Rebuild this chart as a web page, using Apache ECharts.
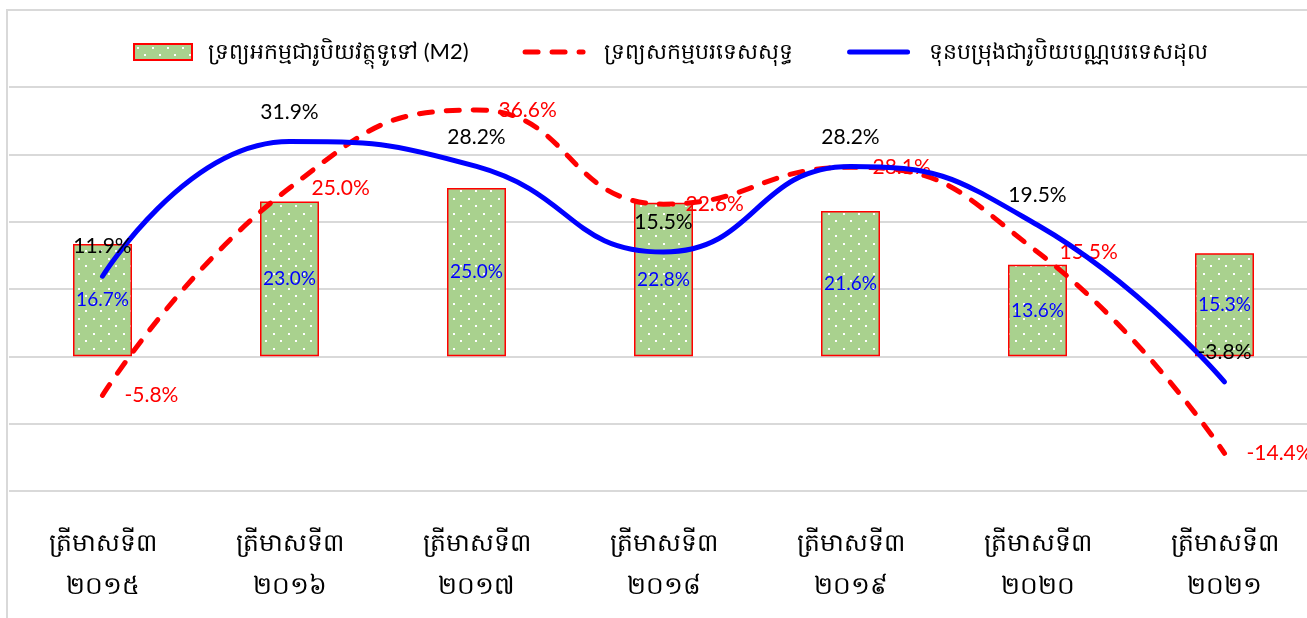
<!DOCTYPE html>
<html>
<head>
<meta charset="utf-8">
<script src="https://cdn.jsdelivr.net/npm/echarts@6/dist/echarts.min.js"></script>
<style>
  html, body { margin: 0; padding: 0; background: #fff; }
  #main { width: 1307px; height: 618px; }
</style>
</head>
<body>
<div id="main"></div>
<script>
var categories = ['ត្រីមាសទី៣\n២០១៥', 'ត្រីមាសទី៣\n២០១៦', 'ត្រីមាសទី៣\n២០១៧', 'ត្រីមាសទី៣\n២០១៨',
    'ត្រីមាសទី៣\n២០១៩', 'ត្រីមាសទី៣\n២០២០', 'ត្រីមាសទី៣\n២០២១'];
var m2Values = [16.7, 23.0, 25.0, 22.8, 21.6, 13.6, 15.3];
var netForeignValues = [-5.8, 25.0, 36.6, 22.6, 28.1, 15.5, -14.4];
var foreignDepositValues = [11.9, 31.9, 28.2, 15.5, 28.2, 19.5, -3.8];
var seriesNames = ['ទ្រព្យអកម្មជារូបិយវត្ថុទូទៅ (M2)', 'ទ្រព្យសកម្មបរទេសសុទ្ធ', 'ទុនបម្រុងជារូបិយបណ្ណបរទេសដុល'];

// dotted fill for the bars
var dots = document.createElement('canvas');
dots.width = 15; dots.height = 15;
var ctx = dots.getContext('2d');
ctx.fillStyle = '#a9d18e';
ctx.fillRect(0, 0, 15, 15);
ctx.fillStyle = '#ffffff';
ctx.fillRect(3, 3, 2, 2);
ctx.fillRect(10, 10, 2, 2);

var font = 'Lato, "Noto Sans", sans-serif';
var pct = function (p) { return p.value.toFixed(1) + '%'; };

var chart = echarts.init(document.getElementById('main'));
chart.setOption({
    animation: false,
    textStyle: { fontFamily: font },
    graphic: [{
        type: 'rect',
        shape: { x: 7, y: 10, width: 1320, height: 640 },
        style: { fill: 'none', stroke: '#d9d9d9', lineWidth: 2 },
        silent: true
    }],
    legend: {
        top: 36,
        left: 128,
        itemWidth: 58,
        itemHeight: 16,
        itemGap: 54,
        textStyle: { fontSize: 22, color: '#000', fontFamily: font },
        lineStyle: { width: 5 },
        data: [
            { name: seriesNames[0], icon: 'rect', textStyle: { padding: [0, 0, 0, 11] } },
            { name: seriesNames[1], itemStyle: { opacity: 0 }, textStyle: { padding: [0, 0, 0, 16] } },
            { name: seriesNames[2], itemStyle: { opacity: 0 }, textStyle: { padding: [0, 0, 0, 16] } }
        ]
    },
    grid: { left: 9, width: 1309, top: 87, bottom: 127, outerBoundsMode: 'none' },
    xAxis: {
        type: 'category',
        data: categories,
        axisLine: { show: false, onZero: false },
        axisTick: { show: false },
        axisLabel: { fontSize: 25, color: '#000', lineHeight: 43, margin: 30, fontFamily: font }
    },
    yAxis: {
        type: 'value',
        min: -20,
        max: 40,
        interval: 10,
        axisLabel: { show: false },
        axisLine: { show: false },
        axisTick: { show: false },
        splitLine: { lineStyle: { color: '#d9d9d9', width: 2 } }
    },
    series: [{
        name: seriesNames[0],
        type: 'bar',
        data: m2Values,
        barWidth: 59,
        itemStyle: { color: { image: dots, repeat: 'repeat' }, borderColor: '#ff0000', borderWidth: 1.5 },
        label: { show: true, position: 'inside', color: '#0000ff', fontSize: 19, formatter: pct },
        z: 2
    }, {
        name: seriesNames[1],
        type: 'line',
        data: netForeignValues,
        smooth: 0.5,
        symbol: 'circle',
        symbolSize: 0,
        lineStyle: { color: '#ff0000', width: 5, type: [13, 14], cap: 'round' },
        itemStyle: { color: '#ff0000' },
        label: { show: true, position: 'right', distance: 22, color: '#ff0000', fontSize: 21, formatter: pct },
        z: 3
    }, {
        name: seriesNames[2],
        type: 'line',
        data: foreignDepositValues,
        smooth: 0.5,
        symbol: 'circle',
        symbolSize: 0,
        lineStyle: { color: '#0000ff', width: 5, cap: 'round' },
        itemStyle: { color: '#0000ff' },
        label: { show: true, position: 'top', distance: 19, color: '#000', fontSize: 21, formatter: pct },
        z: 4
    }]
});
</script>
</body>
</html>
